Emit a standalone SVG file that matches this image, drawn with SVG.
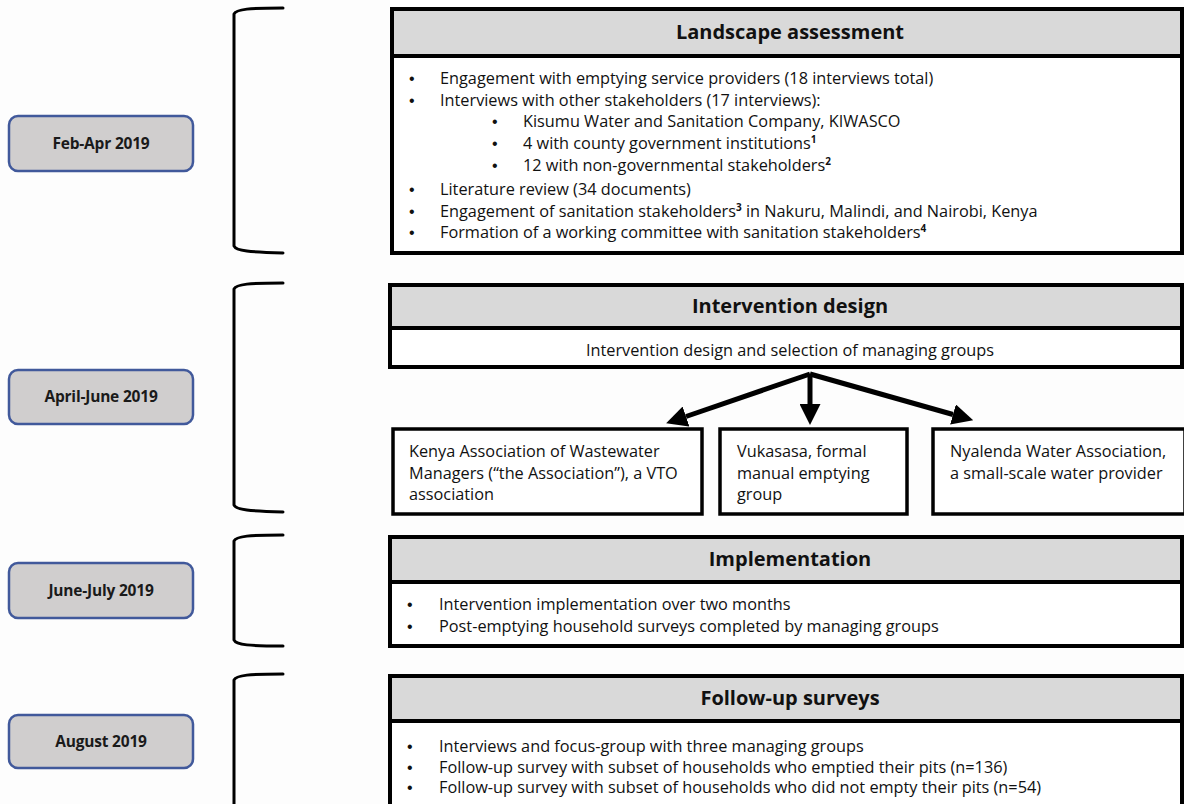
<svg xmlns="http://www.w3.org/2000/svg" width="1184" height="804" viewBox="0 0 1184 804">
<defs>
<style>
.bg{fill:#fdfdfd}
.date rect{fill:#d0cece;stroke:#41599b;stroke-width:2.5}
.date text{font-family:"Open Sans","Liberation Sans",sans-serif;font-weight:bold;font-size:15.5px;fill:#1a1a1a;text-anchor:middle;letter-spacing:-0.2px}
.brk{fill:none;stroke:#000;stroke-width:3;stroke-linecap:round}
.box{fill:#fff;stroke:#000;stroke-width:4}
.hdr{fill:#d9d9d9;stroke:#000;stroke-width:4}
.sub{fill:#fff;stroke:#000;stroke-width:3.5}
.ttl{font-family:"Open Sans","Liberation Sans",sans-serif;font-weight:bold;font-size:20px;fill:#111;text-anchor:middle}
.txt{font-family:"Open Sans","Liberation Sans",sans-serif;font-size:16.3px;fill:#111}
.bul{font-family:"Liberation Sans",sans-serif;font-size:16px;fill:#111}
.sup{font-size:10px;font-weight:bold}
.arr{stroke:#000;stroke-width:5;fill:none}
</style>
<marker id="ah" viewBox="0 0 10 10" refX="0" refY="5" markerWidth="4.2" markerHeight="4.2" orient="auto" markerUnits="strokeWidth">
<path d="M0,0 L10,5 L0,10 Z" fill="#000"/>
</marker>
</defs>
<rect class="bg" x="0" y="0" width="1184" height="804"/>

<g id="date1" class="date"><rect x="9" y="116" width="184" height="55" rx="9"/><text x="101" y="149">Feb-Apr 2019</text></g>
<g id="date2" class="date"><rect x="9" y="370" width="184" height="54" rx="9"/><text x="101" y="402">April-June 2019</text></g>
<g id="date3" class="date"><rect x="9" y="563" width="184" height="55" rx="9"/><text x="101" y="596">June-July 2019</text></g>
<g id="date4" class="date"><rect x="9" y="715" width="184" height="53" rx="9"/><text x="101" y="747">August 2019</text></g>

<g id="brackets">
<path class="brk" d="M283,8 C250,8 236,9 234,14 L234,246 C236,251 250,252 283,253"/>
<path class="brk" d="M283,283 C250,283 236,284 234,289 L234,505 C236,510 250,511 283,512"/>
<path class="brk" d="M283,535 C250,535 236,536 234,541 L234,640 C236,645 250,646 283,646"/>
<path class="brk" d="M283,674 C250,674 236,675 234,680 L234,806"/>
</g>

<g id="landscape">
<rect class="box" x="392" y="9" width="790" height="244"/>
<rect class="hdr" x="392" y="9" width="790" height="47"/>
<text class="ttl" x="790" y="39">Landscape assessment</text>
<g class="bul">
<text x="409" y="84">•</text><text x="409" y="106">•</text><text x="492" y="127">•</text><text x="492" y="149">•</text><text x="492" y="171">•</text><text x="409" y="195">•</text><text x="409" y="217">•</text><text x="409" y="238">•</text>
</g>
<g class="txt">
<text x="440" y="84">Engagement with emptying service providers (18 interviews total)</text>
<text x="440" y="106">Interviews with other stakeholders (17 interviews):</text>
<text x="523" y="127">Kisumu Water and Sanitation Company, KIWASCO</text>
<text x="523" y="149">4 with county government institutions<tspan class="sup" dy="-6">1</tspan></text>
<text x="523" y="171">12 with non-governmental stakeholders<tspan class="sup" dy="-6">2</tspan></text>
<text x="440" y="195">Literature review (34 documents)</text>
<text x="440" y="217">Engagement of sanitation stakeholders<tspan class="sup" dy="-6">3</tspan><tspan dy="6"> in Nakuru, Malindi, and Nairobi, Kenya</tspan></text>
<text x="440" y="238">Formation of a working committee with sanitation stakeholders<tspan class="sup" dy="-6">4</tspan></text>
</g>
</g>

<g id="design">
<rect class="box" x="390" y="285" width="792" height="82"/>
<rect class="hdr" x="390" y="285" width="792" height="43"/>
<text class="ttl" x="790" y="313">Intervention design</text>
<text class="txt" x="790" y="356" text-anchor="middle">Intervention design and selection of managing groups</text>
</g>

<g id="kawm">
<rect class="sub" x="393" y="429" width="309" height="85"/>
<g class="txt"><text x="409" y="457">Kenya Association of Wastewater</text><text x="409" y="479">Managers (“the Association”), a VTO</text><text x="409" y="500">association</text></g>
</g>
<g id="vukasasa">
<rect class="sub" x="720" y="429" width="187" height="85"/>
<g class="txt"><text x="737" y="457">Vukasasa, formal</text><text x="737" y="479">manual emptying</text><text x="737" y="500">group</text></g>
</g>
<g id="nyalenda">
<rect class="sub" x="933" y="429" width="252" height="85"/>
<g class="txt"><text x="950" y="457">Nyalenda Water Association,</text><text x="950" y="479">a small-scale water provider</text></g>
</g>

<g id="connectors">
<line class="arr" x1="810" y1="374" x2="686" y2="416.5" marker-end="url(#ah)"/>
<line class="arr" x1="810" y1="374" x2="810" y2="404" marker-end="url(#ah)"/>
<line class="arr" x1="810" y1="374" x2="953" y2="414.5" marker-end="url(#ah)"/>
</g>

<g id="implementation">
<rect class="box" x="390" y="537" width="792" height="109"/>
<rect class="hdr" x="390" y="537" width="792" height="45"/>
<text class="ttl" x="790" y="566">Implementation</text>
<g class="bul"><text x="407" y="610">•</text><text x="407" y="632">•</text></g>
<g class="txt">
<text x="439" y="610">Intervention implementation over two months</text>
<text x="439" y="632">Post-emptying household surveys completed by managing groups</text>
</g>
</g>

<g id="followup">
<rect class="box" x="390" y="676" width="792" height="140"/>
<rect class="hdr" x="390" y="676" width="792" height="45"/>
<text class="ttl" x="790" y="705">Follow-up surveys</text>
<g class="bul"><text x="407" y="752">•</text><text x="407" y="773">•</text><text x="407" y="793">•</text></g>
<g class="txt">
<text x="439" y="752">Interviews and focus-group with three managing groups</text>
<text x="439" y="773">Follow-up survey with subset of households who emptied their pits (n=136)</text>
<text x="439" y="793">Follow-up survey with subset of households who did not empty their pits (n=54)</text>
</g>
</g>
</svg>
